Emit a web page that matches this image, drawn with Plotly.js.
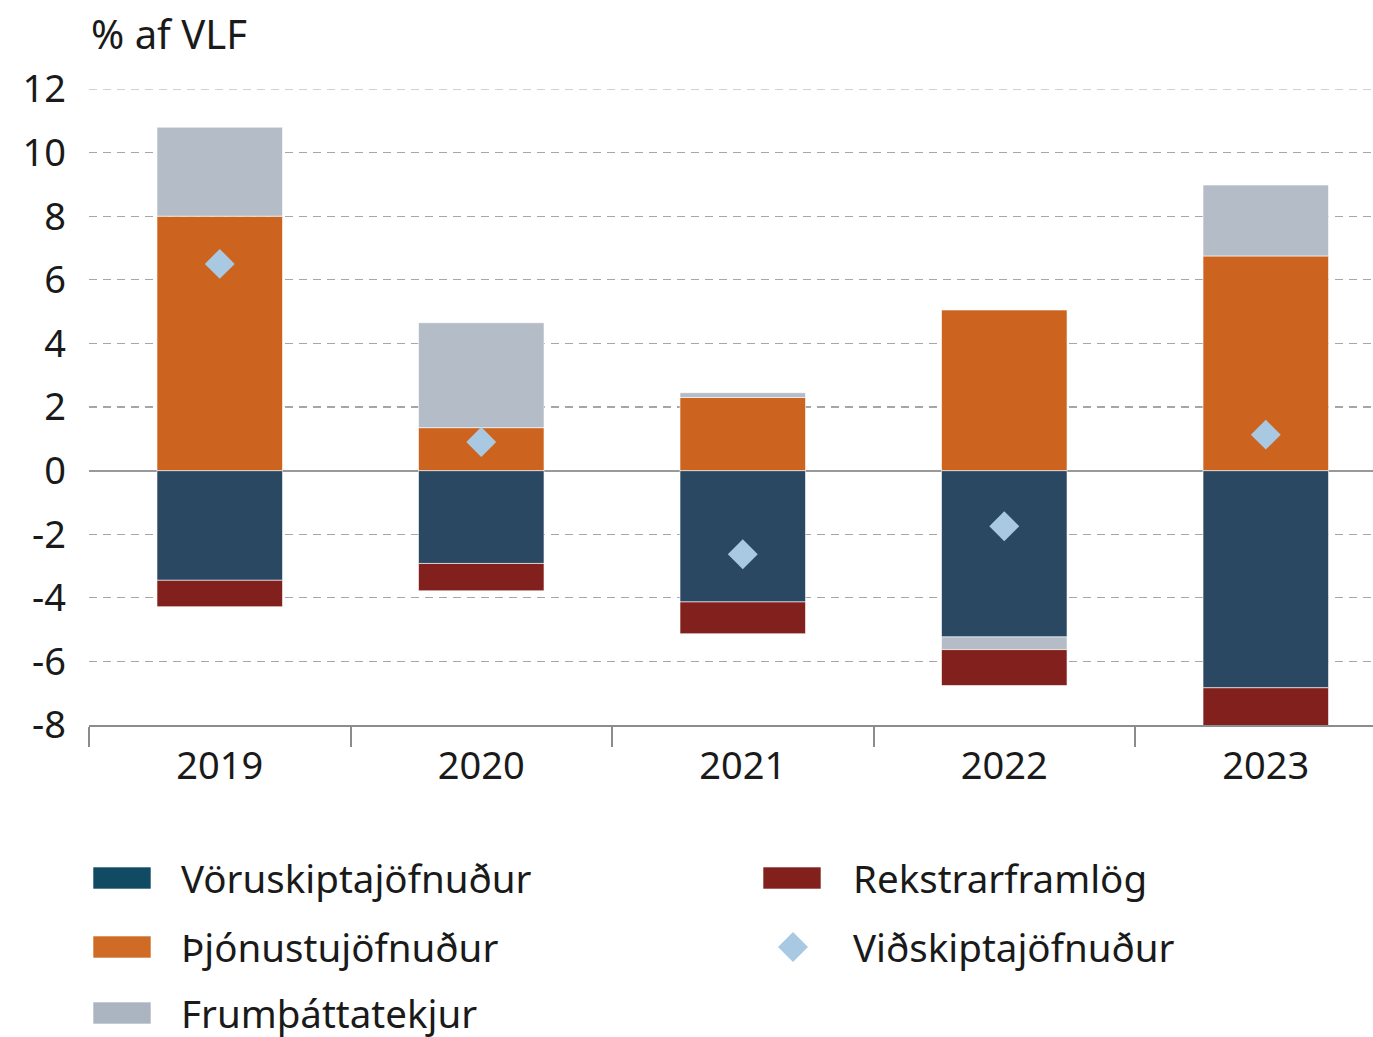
<!DOCTYPE html>
<html>
<head>
<meta charset="utf-8">
<script src="https://cdn.plot.ly/plotly-3.0.1.min.js"></script>
<style>html,body{margin:0;padding:0;background:#fff;}#chart{width:1373px;height:1037px;}</style>
</head>
<body>
<div id="chart"></div>
<script>
const years = ['2019', '2020', '2021', '2022', '2023'];
const voruskipta = [-3.45, -2.92, -4.13, -5.23, -6.83];
const thjonustu = [8.0, 1.35, 2.3, 5.05, 6.75];
const frumthatta = [2.8, 3.3, 0.15, -0.4, 2.23];
const rekstrar = [-0.83, -0.86, -1.0, -1.13, -1.2];
const vidskipta = [6.5, 0.9, -2.63, -1.75, 1.13];
const yTickVals = [-8, -6, -4, -2, 0, 2, 4, 6, 8, 10, 12];
const yTickText = ['-8', '-6', '-4', '-2', '0', '2', '4', '6', '8', '10', '12'];

const names = ['Vöruskiptajöfnuður', 'Þjónustujöfnuður', 'Frumþáttatekjur', 'Rekstrarframlög', 'Viðskiptajöfnuður'];
const colors = {vor: '#2a4862', thj: '#cc631e', fru: '#b3bcc7', rek: '#82201d', vid: '#a9c9e3'};
const legendColors = {vor: '#114a63', thj: '#cf6b25', fru: '#aab5c1', rek: '#82201d', vid: '#a9c9e3'};

const FONT = '"Noto Sans", "Open Sans", sans-serif';
const barLine = {color: 'rgba(255,255,255,0.6)', width: 1};
const GRID = '#a6a6a6';

const traces = [
  {type: 'bar', x: years, y: voruskipta, name: names[0], marker: {color: colors.vor, line: barLine}, showlegend: false},
  {type: 'bar', x: years, y: thjonustu, name: names[1], marker: {color: colors.thj, line: barLine}, showlegend: false},
  {type: 'bar', x: years, y: frumthatta, name: names[2], marker: {color: colors.fru, line: barLine}, showlegend: false},
  {type: 'bar', x: years, y: rekstrar, name: names[3], marker: {color: colors.rek, line: barLine}, showlegend: false},
  {type: 'scatter', mode: 'markers', x: years, y: vidskipta, name: names[4],
   marker: {symbol: 'diamond', size: 23, color: colors.vid}, showlegend: false, cliponaxis: false}
];

// plot area in pixels
const PX0 = 89, PX1 = 1373, PY0 = 89, PY1 = 725;
const px = x => (x - PX0) / (PX1 - PX0);
const py = y => (PY1 - y) / (PY1 - PY0);

const shapes = [
  {type: 'line', xref: 'paper', yref: 'y', x0: 0, x1: 1, y0: 12, y1: 12, layer: 'below',
   line: {color: GRID, width: 1.2, dash: '8px,6px'}}
];
const annotations = [];
const legendItems = [
  {key: 'vor', col: 0, row: 0, name: names[0]},
  {key: 'thj', col: 0, row: 1, name: names[1]},
  {key: 'fru', col: 0, row: 2, name: names[2]},
  {key: 'rek', col: 1, row: 0, name: names[3]},
  {key: 'vid', col: 1, row: 1, name: names[4], diamond: true}
];
const rowY = [878, 947, 1013];
const colSw = [93, 763];
const colTx = [179, 851];
legendItems.forEach(it => {
  const cy = rowY[it.row];
  const sx = colSw[it.col];
  if (it.diamond) {
    const cx = sx + 30, h = 15;
    shapes.push({type: 'path', xref: 'paper', yref: 'paper',
      path: `M ${px(cx - h)} ${py(cy)} L ${px(cx)} ${py(cy - h)} L ${px(cx + h)} ${py(cy)} L ${px(cx)} ${py(cy + h)} Z`,
      fillcolor: legendColors[it.key], line: {width: 0}});
  } else {
    shapes.push({type: 'rect', xref: 'paper', yref: 'paper',
      x0: px(sx), x1: px(sx + 58), y0: py(cy - 11), y1: py(cy + 11),
      fillcolor: legendColors[it.key], line: {color: 'rgba(255,255,255,0.6)', width: 1}});
  }
  annotations.push({xref: 'paper', yref: 'paper', x: px(colTx[it.col]), y: py(cy),
    xanchor: 'left', yanchor: 'middle', showarrow: false, text: it.name,
    font: {family: FONT, size: 38.5, color: '#1a1a1a'}});
});

annotations.push({xref: 'paper', yref: 'paper', x: px(89), y: py(34), xanchor: 'left', yanchor: 'middle',
  showarrow: false, text: '% af VLF', font: {family: FONT, size: 40, color: '#1a1a1a'}});

const layout = {
  width: 1373, height: 1037,
  margin: {l: PX0, r: 1373 - PX1, t: PY0, b: 1037 - PY1},
  paper_bgcolor: '#fff', plot_bgcolor: '#fff',
  barmode: 'relative', bargap: 0.52,
  font: {family: FONT, color: '#1a1a1a'},
  showlegend: false,
  xaxis: {
    type: 'category', range: [-0.5, 4.41], tickson: 'boundaries', ticks: 'outside', ticklen: 20, tickcolor: '#8c8c8c', tickwidth: 2,
    showline: true, linecolor: '#8c8c8c', linewidth: 2, showgrid: false,
    tickfont: {family: FONT, size: 38, color: '#1a1a1a'}, ticklabelstandoff: 6
  },
  yaxis: {
    range: [-8, 12], tickmode: 'array', tickvals: yTickVals, ticktext: yTickText, ticks: '', showline: false,
    showgrid: true, gridcolor: GRID, gridwidth: 1.2, griddash: '8px,6px',
    zeroline: true, zerolinecolor: '#999999', zerolinewidth: 2,
    tickfont: {family: FONT, size: 38, color: '#1a1a1a'}, ticklabelstandoff: 22
  },
  shapes: shapes,
  annotations: annotations
};

Plotly.newPlot('chart', traces, layout, {displayModeBar: false, staticPlot: true});
</script>
</body>
</html>
